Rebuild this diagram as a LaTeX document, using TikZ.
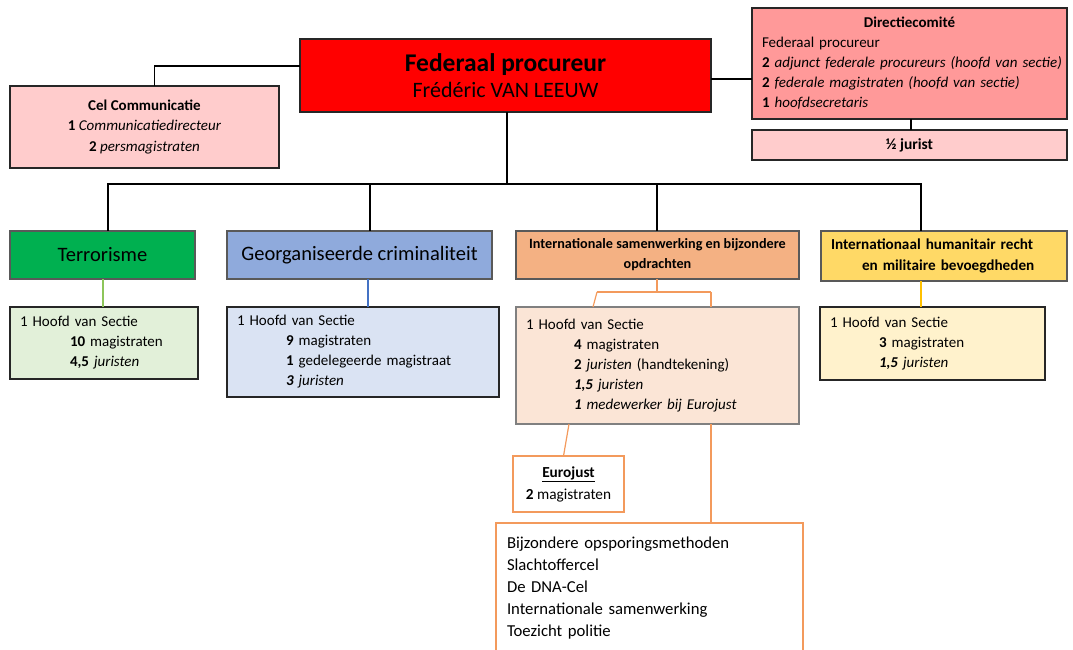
\documentclass[tikz,border=0pt]{standalone}
\usepackage{fontspec}
\setmainfont{Carlito}
\usepackage{tikz}
\usetikzlibrary{positioning}
\definecolor{fedred}{HTML}{FF0000}
\definecolor{celpink}{HTML}{FFCCCC}
\definecolor{dirpink}{HTML}{FF9999}
\definecolor{terrgreen}{HTML}{00B050}
\definecolor{georgblue}{HTML}{8FAADC}
\definecolor{intlorange}{HTML}{F4B183}
\definecolor{humyellow}{HTML}{FFD966}
\definecolor{terrlight}{HTML}{E2F0D9}
\definecolor{georglight}{HTML}{DAE3F3}
\definecolor{intllight}{HTML}{FBE5D6}
\definecolor{humlight}{HTML}{FFF2CC}
\definecolor{lijngreen}{HTML}{8DC55A}
\definecolor{lijnblue}{HTML}{4472C4}
\definecolor{lijnyellow}{HTML}{FFC000}
\definecolor{lijnorange}{HTML}{F39A5C}

\begin{document}
\begin{tikzpicture}[x=1pt, y=-1pt,
      every node/.style={inner sep=0pt, outer sep=0pt, anchor=north west, draw=black!85, line width=1.2pt, text=black},
      kop/.style={font=\fontsize{20.5}{24}\selectfont, align=center, draw=black!65},
      sub/.style={font=\fontsize{15}{20}\selectfont, align=left, inner xsep=10pt},
      lijn/.style={line width=1.2pt, draw=black}
    ]
    \useasboundingbox (0,0) rectangle (1073,650);

    \node [fill=fedred, minimum width=411, minimum height=73, align=center] (fed) at (300,39)
      {\fontsize{25.5}{29}\selectfont\bfseries Federaal procureur\\[6pt] \fontsize{22}{29}\selectfont\mdseries Frédéric VAN LEEUW};
    \node [fill=celpink, minimum width=269, minimum height=82, align=center, font=\fontsize{15}{20.5}\selectfont] (cel) at (10,86)
      {\textbf{Cel Communicatie}\\ \textbf{1} \textit{Communicatiedirecteur}\\ \textbf{2} \textit{persmagistraten}};
    \node [fill=dirpink, sub, text width=295, minimum height=111] (dir) at (752,8)
      {\makebox[295pt]{\textbf{Directiecomité}}\\ Federaal procureur\\ \mbox{\textbf{2} \textit{adjunct federale procureurs (hoofd van sectie)}}\\ \mbox{\textbf{2} \textit{federale magistraten (hoofd van sectie)}}\\ \textbf{1} \textit{hoofdsecretaris}};
    \node [fill=celpink, minimum width=315, minimum height=30, font=\fontsize{15.5}{18}\selectfont\bfseries] (half) at (752,130) {½ jurist};

    \node [kop, fill=terrgreen, minimum width=185, minimum height=48] (terr) at (10,231) {Terrorisme};
    \node [kop, fill=georgblue, minimum width=265, minimum height=48] (georg) at (227,231) {Georganiseerde criminaliteit};
    \node [kop, fill=intlorange, minimum width=283, minimum height=48, font=\fontsize{14.2}{20}\selectfont\bfseries] (intl) at (516,231)
      {Internationale samenwerking en bijzondere\\ opdrachten};
    \node [kop, fill=humyellow, text width=226, minimum height=50, align=left, inner xsep=10pt, font=\fontsize{15.2}{21}\selectfont\bfseries] (hum) at (821,231)
      {Internationaal humanitair recht\\ \hspace*{31pt}en militaire bevoegdheden};

    \node [sub, fill=terrlight, text width=168, minimum height=72] (terrsub) at (10,307)
      {1 Hoofd van Sectie\\ \hspace*{50pt}\textbf{10} magistraten\\ \hspace*{50pt}\textbf{4,5} \textit{juristen}};
    \node [sub, fill=georglight, text width=252, minimum height=90] (georgsub) at (227,307)
      {1 Hoofd van Sectie\\ \hspace*{49pt}\textbf{9} magistraten\\ \hspace*{49pt}\textbf{1} gedelegeerde magistraat\\ \hspace*{49pt}\textit{\textbf{3} juristen}};
    \node [sub, fill=intllight, draw=black!50, text width=263, minimum height=117] (intlsub) at (516,307)
      {1 Hoofd van Sectie\\ \hspace*{48pt}\textbf{4} magistraten\\ \hspace*{48pt}\textbf{2} \textit{juristen} (handtekening)\\ \hspace*{48pt}\textit{\textbf{1,5} juristen}\\ \hspace*{48pt}\textit{\textbf{1} medewerker bij Eurojust}};
    \node [sub, fill=humlight, text width=205, minimum height=73] (humsub) at (820,307)
      {1 Hoofd van Sectie\\ \hspace*{49pt}\textbf{3} magistraten\\ \hspace*{49pt}\textit{\textbf{1,5} juristen}};

    \node [draw=lijnorange, fill=white, minimum width=111, minimum height=56, align=center, font=\fontsize{15.3}{22}\selectfont] (euro) at (513,456)
      {\underline{\textbf{Eurojust}}\\ \textbf{2} magistraten};
    \node [draw=lijnorange, fill=white, sub, inner xsep=11pt, text width=285, minimum height=130, font=\fontsize{16.7}{22}\selectfont] (taken) at (496,523)
      {Bijzondere opsporingsmethoden\\ Slachtoffercel\\ De DNA-Cel\\ Internationale samenwerking\\ Toezicht politie};

    \coordinate (bus) at (507,184);
    \coordinate (ibl) at (597,292);
    \coordinate (ibr) at (711,292);

    \draw [lijn] ([yshift=9.5pt]fed.west) -| ([xshift=10pt]cel.north);
    \draw [lijn] ([yshift=-3.5pt]fed.east) -- ([yshift=-3.5pt]fed.east -| dir.west);
    \draw [lijn] ([xshift=1.5pt]dir.south) -- ([xshift=1.5pt]half.north);
    \draw [lijn] ([xshift=1.5pt]fed.south) -- (bus);
    \draw [lijn] (bus) -| ([xshift=5.5pt]terr.north);
    \draw [lijn] (bus) -| ([xshift=10.5pt]georg.north);
    \draw [lijn] (bus) -| ([xshift=-0.5pt]intl.north);
    \draw [lijn] (bus) -| ([xshift=-23pt]hum.north);

    \draw [lijn, draw=lijngreen] ([xshift=0.5pt]terr.south) -- ([xshift=0.5pt]terr.south |- terrsub.north);
    \draw [lijn, draw=lijnblue] ([xshift=8.5pt]georg.south) -- ([xshift=8.5pt]georg.south |- georgsub.north);
    \draw [lijn, draw=lijnyellow] ([xshift=-23pt]hum.south) -- ([xshift=-23pt]hum.south |- humsub.north);

    \draw [lijn, draw=lijnorange] ([xshift=-0.5pt]intl.south) -- ([xshift=-0.5pt]intl.south |- ibl);
    \draw [lijn, draw=lijnorange] (ibl) -- (ibr);
    \draw [lijn, draw=lijnorange] (ibl) -- ([xshift=77pt]intlsub.north west);
    \draw [lijn, draw=lijnorange] (ibr) -- (ibr |- intlsub.north);
    \draw [lijn, draw=lijnorange] ([xshift=53pt]intlsub.south west) -- ([xshift=-5pt]euro.north);
    \draw [lijn, draw=lijnorange] ([xshift=195pt]intlsub.south west) -- ([xshift=195pt]intlsub.south west |- taken.north);
  \end{tikzpicture}
\end{document}
